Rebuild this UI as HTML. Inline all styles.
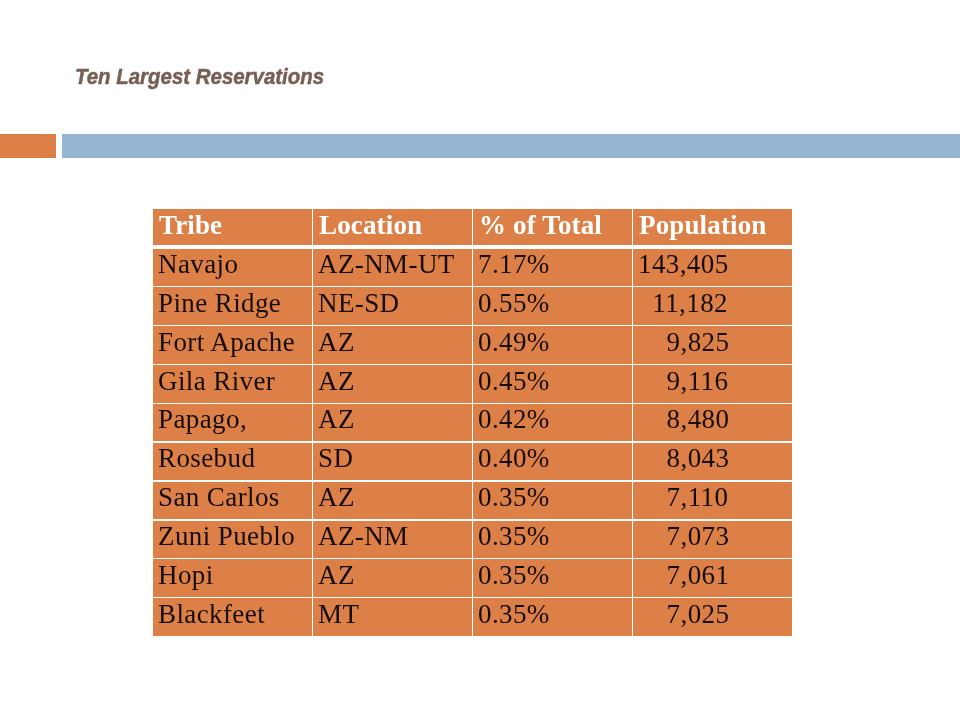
<!DOCTYPE html>
<html><head><meta charset="utf-8">
<style>
html,body{margin:0;padding:0;background:#fff;}
body{width:960px;height:720px;position:relative;overflow:hidden;font-family:"Liberation Serif",serif;}
#title{position:absolute;left:74.5px;top:62.3px;font-family:"Liberation Sans",sans-serif;font-weight:bold;font-style:italic;font-size:22px;line-height:30px;color:#775F55;white-space:nowrap;transform-origin:0 0;transform:scaleX(0.929);-webkit-text-stroke:0.5px #775F55;}
#bar1{position:absolute;left:0;top:134px;width:56px;height:24px;background:#DD8047;}
#bar2{position:absolute;left:62px;top:134px;width:898px;height:24px;background:#94B6D2;}
#tbl{position:absolute;left:153px;top:209px;width:639px;height:427px;background:#DD8047;}
.hl{position:absolute;left:0;width:639px;height:1.4px;background:#fff;}
.vl{position:absolute;top:0;height:427px;width:1.4px;background:#fff;}
.t{position:absolute;white-space:pre;font-size:27px;line-height:30px;color:rgba(0,0,0,0.9);letter-spacing:0.4px;margin-left:-1px;}
.h{color:#fff;font-weight:bold;letter-spacing:0.15px;margin-left:0;}
</style></head><body>
<div id="title">Ten Largest Reservations</div>
<div id="bar1"></div><div id="bar2"></div>
<div id="tbl">
<div class="hl" style="top:36px;height:4px"></div>
<div class="vl" style="left:159px"></div>
<div class="vl" style="left:319px"></div>
<div class="vl" style="left:479px"></div>
<div class="t h" style="left:6px;top:0.75px">Tribe</div>
<div class="t h" style="left:166px;top:0.75px">Location</div>
<div class="t h" style="left:326px;top:0.75px">% of Total</div>
<div class="t h" style="left:486px;top:0.75px">Population</div>
<div class="t" style="left:6px;top:39.85px">Navajo</div>
<div class="t" style="left:166px;top:39.85px">AZ-NM-UT</div>
<div class="t" style="left:326px;top:39.85px">7.17%</div>
<div class="t" style="left:486px;top:39.85px">143,405</div>
<div class="hl" style="top:76.8px"></div>
<div class="t" style="left:6px;top:78.75px">Pine Ridge</div>
<div class="t" style="left:166px;top:78.75px">NE-SD</div>
<div class="t" style="left:326px;top:78.75px">0.55%</div>
<div class="t" style="left:486px;top:78.75px">  11,182</div>
<div class="hl" style="top:115.7px"></div>
<div class="t" style="left:6px;top:117.65px">Fort Apache</div>
<div class="t" style="left:166px;top:117.65px">AZ</div>
<div class="t" style="left:326px;top:117.65px">0.49%</div>
<div class="t" style="left:486px;top:117.65px">    9,825</div>
<div class="hl" style="top:154.6px"></div>
<div class="t" style="left:6px;top:156.55px">Gila River</div>
<div class="t" style="left:166px;top:156.55px">AZ</div>
<div class="t" style="left:326px;top:156.55px">0.45%</div>
<div class="t" style="left:486px;top:156.55px">    9,116</div>
<div class="hl" style="top:193.5px"></div>
<div class="t" style="left:6px;top:195.45px">Papago,</div>
<div class="t" style="left:166px;top:195.45px">AZ</div>
<div class="t" style="left:326px;top:195.45px">0.42%</div>
<div class="t" style="left:486px;top:195.45px">    8,480</div>
<div class="hl" style="top:232.4px"></div>
<div class="t" style="left:6px;top:234.35px">Rosebud</div>
<div class="t" style="left:166px;top:234.35px">SD</div>
<div class="t" style="left:326px;top:234.35px">0.40%</div>
<div class="t" style="left:486px;top:234.35px">    8,043</div>
<div class="hl" style="top:271.3px"></div>
<div class="t" style="left:6px;top:273.25px">San Carlos</div>
<div class="t" style="left:166px;top:273.25px">AZ</div>
<div class="t" style="left:326px;top:273.25px">0.35%</div>
<div class="t" style="left:486px;top:273.25px">    7,110</div>
<div class="hl" style="top:310.2px"></div>
<div class="t" style="left:6px;top:312.15px">Zuni Pueblo</div>
<div class="t" style="left:166px;top:312.15px">AZ-NM</div>
<div class="t" style="left:326px;top:312.15px">0.35%</div>
<div class="t" style="left:486px;top:312.15px">    7,073</div>
<div class="hl" style="top:349.1px"></div>
<div class="t" style="left:6px;top:351.05px">Hopi</div>
<div class="t" style="left:166px;top:351.05px">AZ</div>
<div class="t" style="left:326px;top:351.05px">0.35%</div>
<div class="t" style="left:486px;top:351.05px">    7,061</div>
<div class="hl" style="top:388.0px"></div>
<div class="t" style="left:6px;top:389.95px">Blackfeet</div>
<div class="t" style="left:166px;top:389.95px">MT</div>
<div class="t" style="left:326px;top:389.95px">0.35%</div>
<div class="t" style="left:486px;top:389.95px">    7,025</div>
</div>
</body></html>
